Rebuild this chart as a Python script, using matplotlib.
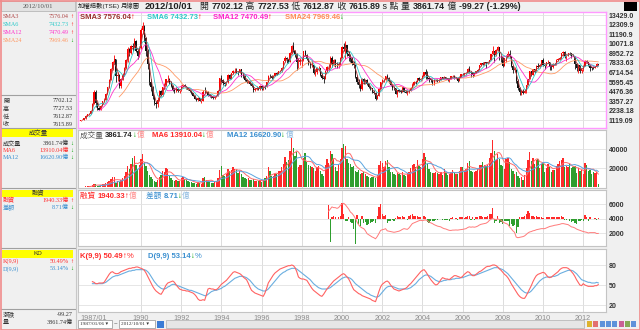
import numpy as np
import pandas as pd
import matplotlib.pyplot as plt
from matplotlib.patches import Rectangle

plt.rcParams["font.family"] = ["Liberation Sans", "Noto Sans CJK TC"]

W, H = 640, 330

# ---- 月線資料 1987/01 ~ 2012/10 ----
closes = [
    1146, 1170, 1305, 1620, 1780, 1830, 2160, 3050, 4420, 3130, 2570, 2339,
    2790, 3300, 3530, 4200, 4950, 5880, 7160, 7900, 8300, 6300, 6400, 5119,
    5950, 6450, 7250, 8150, 9450, 9000, 9800, 9700, 10400, 9300, 8700, 9624,
    11700, 12200, 10800, 9300, 7700, 5600, 5000, 3900, 3100, 3000, 3500, 4530,
    4100, 4950, 5200, 5900, 5950, 5600, 5150, 4650, 4550, 4800, 4500, 4600,
    5100, 5300, 5050, 4900, 4700, 4550, 4300, 4000, 3650, 3450, 3700, 3377,
    3400, 4450, 4400, 4400, 4050, 4000, 3800, 3700, 3860, 4000, 4500, 6070,
    5800, 5450, 5400, 5600, 6450, 6000, 6600, 6850, 6900, 6800, 6650, 7124,
    6400, 6350, 5850, 5600, 5700, 5350, 5150, 4650, 4800, 4850, 4750, 5173,
    4800, 5050, 5000, 5600, 6350, 6300, 6050, 6350, 6600, 6580, 6850, 6933,
    7200, 8050, 8450, 8300, 7950, 9030, 9850, 9200, 8850, 7900, 7900, 8187,
    8200, 9200, 8750, 8250, 7700, 7550, 7600, 6600, 6800, 7200, 7200, 6418,
    6100, 5900, 6880, 7350, 7400, 8450, 7600, 8150, 7600, 7550, 7700, 8448,
    9750, 9450, 9900, 8950, 8650, 8300, 7800, 7650, 6200, 5650, 5250, 4739,
    5950, 5550, 5800, 5380, 4950, 4850, 4400, 4300, 3650, 3900, 4800, 5551,
    5800, 5850, 6250, 6100, 5700, 5200, 4900, 4850, 4200, 4600, 4550, 4452,
    4950, 4450, 4300, 4500, 4550, 4900, 5300, 5650, 5600, 6050, 5800, 5890,
    6350, 6750, 6500, 6100, 5900, 5850, 5500, 5800, 5850, 5700, 5850, 6139,
    5990, 6200, 6000, 5800, 6000, 6250, 6300, 6050, 6120, 5760, 6200, 6548,
    6530, 6600, 6620, 7170, 6800, 6700, 6450, 6620, 6880, 7020, 7570, 7823,
    7700, 7900, 7880, 7900, 8150, 8880, 9290, 8800, 9400, 9700, 8600, 8506,
    7520, 8410, 8570, 8920, 8620, 7520, 7050, 7050, 5720, 4870, 4460, 4591,
    4250, 4560, 5210, 5990, 6890, 6430, 7080, 6830, 7510, 7340, 7580, 8188,
    7640, 7440, 7920, 8000, 7370, 7330, 7760, 7620, 8240, 8290, 8372.48, 8972.50,
    9145.35, 8600.00, 8683.30, 9007.87, 8989.30, 8652.59, 8644.00, 7741.36, 7225.38, 7587.00, 6904.12, 7072.08,
    7517.08, 8121.45, 7933.00, 7501.72, 7301.50, 7296.28, 7270.49, 7397.07, 7715.16, 7615.89,
]
highs = [
    1160, 1230, 1330, 1650, 1830, 1900, 2200, 3100, 4600, 4673, 3200, 2700,
    2850, 3380, 3700, 4300, 5050, 5950, 7300, 8100, 8789, 8350, 6800, 6500,
    6100, 6700, 7400, 8300, 9700, 9600, 10000, 10200, 10800, 10500, 9500, 9800,
    11900, 12682, 12300, 10900, 9500, 7800, 5900, 5100, 4100, 3300, 3800, 4700,
    4600, 5000, 5500, 6000, 6365, 6100, 5700, 5200, 4900, 4950, 4900, 4700,
    5200, 5391, 5350, 5150, 4950, 4750, 4600, 4350, 4050, 3700, 3800, 3750,
    3500, 4600, 4950, 4600, 4500, 4150, 4100, 3850, 3950, 4100, 4600, 6100,
    6400, 5950, 5600, 5700, 6500, 6550, 6700, 7000, 7200, 7228, 6900, 7180,
    7150, 6700, 6450, 5950, 5800, 5750, 5500, 5250, 4900, 5100, 4950, 5200,
    5250, 5100, 5200, 5650, 6400, 6500, 6400, 6400, 6650, 6750, 6900, 7000,
    7300, 8100, 8600, 8550, 8350, 9100, 10000, 10256, 9400, 9050, 8400, 8400,
    8400, 9300, 9378, 8850, 8300, 7900, 8200, 7650, 7100, 7400, 7500, 7200,
    6600, 6250, 7000, 7500, 7700, 8600, 8710, 8300, 8300, 7900, 7950, 8500,
    9800, 10202, 10393, 10000, 9200, 8900, 8500, 8100, 7700, 6400, 5900, 5400,
    6100, 6104, 5900, 5900, 5500, 5100, 4900, 4700, 4400, 4050, 4850, 5600,
    5900, 6000, 6300, 6484, 6150, 5750, 5350, 5100, 4900, 4700, 4800, 4650,
    5050, 5000, 4700, 4600, 4750, 4950, 5500, 5700, 5750, 6100, 6182, 5950,
    6400, 6800, 7135, 6850, 6100, 6000, 5900, 5900, 6000, 5900, 6000, 6200,
    6200, 6300, 6240, 6050, 6100, 6300, 6450, 6400, 6200, 6150, 6250, 6575,
    6700, 6650, 6700, 7200, 7475, 6950, 6800, 6700, 6900, 7080, 7600, 7850,
    8000, 8000, 7950, 8000, 8200, 8900, 9807, 9300, 9500, 9859, 9700, 8700,
    8500, 8450, 8800, 9200, 9309, 8600, 7650, 7400, 7100, 5900, 5000, 4700,
    4730, 4750, 5250, 6000, 6900, 6950, 7100, 7150, 7560, 7800, 7700, 8200,
    8395, 7650, 7950, 8166, 7950, 7550, 7800, 7850, 8250, 8400, 8500, 8980,
    9220, 9200, 8750, 9050, 9100, 9050, 8950, 8700, 7800, 7700, 7600, 7100,
    7550, 8140, 8170, 7950, 7650, 7350, 7450, 7480, 7800, 7727.53,
]
lows = [
    1030, 1100, 1160, 1290, 1600, 1700, 1800, 2150, 3000, 2700, 2300, 2298,
    2300, 2750, 3200, 3500, 4150, 4900, 5800, 7000, 7800, 5615, 5700, 4900,
    4873, 5800, 6300, 7100, 8000, 8700, 8900, 9200, 9600, 9100, 8300, 8500,
    9500, 11200, 10300, 8600, 7100, 5300, 4500, 3600, 2900, 2485, 2700, 3400,
    3900, 4000, 4800, 5100, 5600, 5400, 5050, 4500, 4300, 4450, 4400, 4300,
    4500, 5000, 5000, 4800, 4600, 4450, 4200, 3900, 3600, 3327, 3400, 3350,
    3098, 3350, 4300, 4250, 4000, 3850, 3700, 3600, 3650, 3850, 3950, 4500,
    5600, 5200, 5100, 5250, 5500, 5900, 5950, 6500, 6700, 6650, 6400, 6600,
    6200, 6100, 5750, 5500, 5450, 5300, 5000, 4474, 4550, 4700, 4600, 4700,
    4672, 4700, 4800, 4950, 5550, 6100, 5950, 6000, 6300, 6450, 6500, 6750,
    6800, 7150, 7900, 7800, 7800, 7900, 8950, 9100, 8500, 7040, 7300, 7600,
    7400, 8100, 8600, 8150, 7600, 7250, 7400, 6500, 6250, 6500, 6900, 6300,
    5950, 5422, 5900, 6800, 7000, 7300, 7400, 7450, 7400, 7300, 7300, 7600,
    8400, 9200, 8300, 8700, 8100, 8000, 7600, 7200, 6100, 5400, 4850, 4555,
    4700, 5400, 5400, 5200, 4900, 4600, 4300, 4200, 3446, 3600, 3900, 4800,
    5500, 5550, 5750, 5950, 5500, 5150, 4700, 4600, 4150, 3850, 4450, 4300,
    4400, 4400, 4250, 4044, 4300, 4500, 4850, 5200, 5400, 5550, 5750, 5700,
    5850, 6300, 6000, 5900, 5550, 5600, 5300, 5255, 5700, 5600, 5600, 5800,
    5900, 5950, 5950, 5700, 5650, 5950, 6200, 6000, 5950, 5618, 5750, 6150,
    6400, 6350, 6450, 6600, 6650, 6200, 6232, 6300, 6600, 6800, 7000, 7500,
    7600, 7650, 7300, 7700, 7850, 8150, 8900, 7987, 8700, 9200, 8200, 8000,
    7384, 7500, 7900, 8500, 8400, 7400, 6700, 6750, 5530, 4700, 4110, 4089,
    4164, 4250, 4300, 5200, 6000, 6300, 6400, 6600, 6800, 7300, 7250, 7500,
    7500, 7080, 7450, 7800, 7032, 7050, 7250, 7600, 7600, 8100, 8150, 8350,
    8700, 8400, 8070, 8600, 8800, 8400, 8600, 7100, 6900, 6600, 6700, 6600,
    6900, 7500, 7800, 7450, 6900, 7050, 7100, 7200, 7350, 7612.87,
]
first_open = 1040.0
last_open = 7702.12

# 成交量 (億)
volume = [
    300, 400, 500, 900, 1200, 1100, 1500, 2500, 4000, 3000, 1500, 1400,
    2500, 3000, 3500, 4500, 5500, 6500, 9000, 10500, 11000, 5000, 6500, 5500,
    8000, 9500, 12000, 16000, 22000, 19000, 25000, 31000, 33000, 23000, 19000, 24000,
    30000, 35000, 27000, 22000, 17000, 13000, 11000, 9000, 7000, 5500, 8000, 10500,
    13000, 17000, 16500, 20000, 19000, 12000, 10000, 7500, 7000, 8000, 7000, 6500,
    9500, 11000, 8500, 7500, 6500, 5500, 5500, 5000, 4500, 4000, 5500, 4500,
    4000, 9500, 10500, 8000, 6500, 5500, 5000, 4800, 5500, 6500, 9500, 18500,
    22000, 13000, 12000, 13500, 19500, 17000, 18000, 21000, 19000, 18500, 15000, 17500,
    14000, 11000, 10000, 8500, 9500, 8000, 7500, 8500, 7000, 7000, 6500, 7500,
    6000, 7500, 9500, 12000, 21000, 17500, 11500, 11500, 14000, 13500, 17000, 17500,
    21000, 25000, 32000, 26500, 29000, 38000, 52000, 41000, 33000, 37000, 21500, 23000,
    24000, 31000, 36000, 27000, 23000, 22000, 21000, 20000, 17500, 21000, 22500, 17000,
    14500, 11500, 23000, 30000, 26000, 38000, 35500, 30000, 21000, 17000, 25000, 30000,
    41000, 45500, 43000, 29500, 26000, 25000, 21000, 22000, 17500, 16500, 18000, 14000,
    15500, 16000, 14000, 12000, 11000, 10000, 11000, 10500, 10000, 12500, 23500, 27500,
    26000, 21000, 28000, 29000, 21500, 16000, 16500, 14000, 13000, 15000, 14500, 12500,
    16500, 12500, 12000, 15500, 16000, 20000, 23000, 24500, 21500, 29000, 22000, 21000,
    30000, 36000, 32000, 25000, 19000, 16500, 15000, 15000, 16500, 15000, 14500, 16000,
    13000, 19000, 15500, 13000, 14000, 16500, 18000, 16500, 13500, 14500, 17000, 21000,
    21000, 17500, 19500, 26000, 28000, 17000, 16500, 16000, 17000, 19500, 23000, 24000,
    26500, 24000, 22500, 24000, 30500, 36000, 50000, 38500, 28500, 35500, 30000, 23000,
    22500, 19000, 29500, 31000, 27000, 19500, 17500, 13500, 16000, 12000, 10000, 11000,
    8000, 13000, 20000, 29000, 37000, 28000, 30500, 25000, 29000, 30000, 20000, 24500,
    26000, 16000, 20000, 25000, 21500, 16500, 18500, 18000, 22500, 25000, 28000, 29000,
    30500, 21500, 22500, 21000, 24500, 20000, 21500, 22000, 15000, 20000, 17500, 17800,
    13500, 25800, 23900, 17490.56, 18500, 14200, 15600, 15300, 15998.5, 3861.74,
]

# 融資餘額與差額 (億), 1999/05 起
margin_start = "1999-05"
margin = [
    5000, 5300, 5600, 5500, 5500, 5400, 5500, 5800,
    6000, 6100, 5900, 5600, 5300, 4900, 4700, 4400, 4000, 3500, 3100, 2850,
    2700, 2600, 2300, 1900, 1750, 1600, 1450, 1350, 1200, 1500, 1900, 2350,
    2450, 2500, 2600, 2300, 2250, 2200, 2150, 2100, 2140, 2200, 2250, 2350,
    2500, 2600, 2550, 2500, 2700, 3000, 3300, 3400, 3500, 3600, 3700, 3750,
    3700, 3770, 3800, 3700, 3500, 3400, 3300, 3150, 3050, 2950, 2900, 2840,
    2700, 2600, 2550, 2450, 2370, 2350, 2400, 2400, 2420, 2400, 2440, 2470,
    2500, 2550, 2600, 2750, 2850, 2800, 2840, 2800, 2850, 2950, 3100, 3200,
    3250, 3300, 3350, 3500, 3750, 3900, 4000, 3900, 3850, 3950, 3850, 3770,
    3500, 3400, 3300, 3200, 2840, 2600, 2300, 2100, 1440, 1350, 1400, 1440,
    1500, 1600, 1800, 2000, 2140, 2200, 2300, 2350, 2450, 2500, 2550, 2600,
    2600, 2600, 2700, 2800, 2900, 2950, 3000, 3070, 3100, 3150, 3200, 3280,
    3300, 3250, 3200, 3150, 3000, 2840, 2800, 2700, 2550, 2450, 2370, 2300,
    2200, 2150, 2100, 2000, 2050, 2050, 2050, 2050, 1931.62, 1940.33,
]
margin_diff = [
    950, -1600, 120, 150, 80, -60, 100, 180,
    1050, 300, -150, -200, 100, -250, -300, -700, -1750, 250, -350, -500,
    200, -300, -250, -450, -350, -300, -250, -200, -300, 150, 800, 1000,
    300, 150, 250, -300, -150, -200, -100, -150, 50, 150, 100, 120,
    150, 80, -60, -80, 150, 250, 300, 200, 150, 150, 120, 80,
    -60, 150, 100, -250, -300, -200, -150, -150, -100, -80, -60, -60,
    -120, -100, -80, -120, -150, 60, 80, -60, 50, -80, 80, 100,
    80, 60, 80, 200, 150, -120, 80, -80, 100, 120, 180, 150,
    100, 80, 100, 200, 300, 300, 750, -300, -150, 200, -300, -250,
    -400, -150, -200, -150, -500, -400, -500, -450, -1000, -600, 80, 80,
    100, 150, 300, 500, 350, 150, 200, 100, 200, 100, 80, 100,
    60, -60, 100, 120, 100, 80, 80, 100, 80, 80, 100, 150,
    100, -80, -100, -60, -200, -250, -150, -300, -400, -200, -150, -100,
    -150, 250, 100, -150, 80, -60, -50, 60, -120, 8.71,
]

# KD(9,9), 1987/08 起
kd_start = "1987-08"
kd_k = [
    55, 54, 52, 52, 53,
    53, 53, 54, 58, 62, 66, 69, 70, 68, 67, 67, 68,
    70, 71, 72, 73, 74, 75, 75, 76, 76, 77, 77, 76,
    75, 74, 72, 68, 63, 58, 53, 48, 44, 41, 39, 37,
    36, 40, 45, 50, 53, 54, 55, 56, 54, 50, 47, 44,
    43, 42, 42, 41, 41, 40, 39, 38, 36, 33, 29, 27,
    27, 28, 27, 35, 44, 45, 44, 44, 43, 43, 45, 48,
    51, 53, 55, 57, 60, 63, 66, 69, 70, 69, 68, 67,
    65, 62, 60, 58, 53, 47, 42, 40, 38, 37, 36, 35,
    34, 33, 38, 45, 53, 57, 61, 65, 68, 70, 72, 74,
    75, 76, 77, 78, 79, 79, 80, 79, 76, 70, 62, 60,
    59, 59, 58, 57, 53, 49, 45, 42, 40, 38, 36, 34,
    33, 36, 40, 44, 47, 50, 53, 56, 58, 60, 62, 64,
    66, 67, 65, 62, 59, 54, 48, 43, 41, 39, 37, 36,
    34, 33, 32, 31, 30, 29, 27, 26, 25, 32, 40, 47,
    51, 53, 55, 56, 54, 50, 47, 44, 43, 42, 41, 42,
    43, 44, 45, 47, 50, 52, 55, 58, 61, 64, 67, 70,
    72, 73, 70, 66, 62, 58, 55, 52, 50, 51, 54, 58,
    61, 60, 59, 59, 58, 60, 62, 64, 64, 63, 62, 61,
    63, 66, 68, 70, 69, 66, 64, 64, 66, 68, 70, 71,
    73, 75, 77, 78, 78, 79, 80, 80, 79, 77, 74, 72,
    69, 66, 64, 61, 57, 52, 48, 44, 40, 36, 33, 31,
    30, 30, 34, 39, 44, 49, 55, 60, 64, 66, 67, 68,
    69, 68, 65, 62, 61, 62, 64, 66, 68, 70, 73, 75,
    76, 76, 76, 75, 73, 70, 67, 63, 58, 54, 50, 49,
    52, 50, 49, 48, 48, 48, 48, 49, 49, 50.49,
]
kd_d = [
    52, 52, 52, 52, 52,
    52, 52, 53, 54, 56, 58, 60, 62, 63, 64, 64, 65,
    66, 67, 68, 69, 70, 71, 71, 72, 72, 73, 73, 73,
    73, 73, 73, 72, 70, 67, 63, 59, 55, 52, 49, 47,
    45, 44, 44, 45, 47, 48, 50, 51, 51, 50, 49, 48,
    47, 46, 45, 44, 43, 42, 42, 41, 40, 39, 38, 37,
    36, 35, 34, 34, 36, 38, 40, 41, 42, 42, 43, 44,
    45, 47, 48, 50, 52, 54, 56, 58, 60, 61, 62, 63,
    63, 63, 62, 61, 59, 57, 54, 51, 48, 46, 44, 43,
    42, 41, 41, 42, 44, 47, 50, 53, 56, 59, 62, 65,
    67, 69, 70, 72, 73, 74, 75, 75, 75, 74, 72, 70,
    68, 66, 64, 62, 60, 58, 55, 52, 50, 48, 46, 45,
    44, 44, 44, 44, 45, 46, 48, 50, 52, 54, 56, 58,
    60, 61, 62, 62, 61, 60, 58, 55, 52, 50, 48, 46,
    44, 42, 40, 38, 37, 35, 34, 33, 32, 32, 33, 36,
    39, 42, 45, 47, 48, 48, 48, 47, 46, 45, 44, 44,
    44, 44, 44, 44, 45, 46, 48, 50, 52, 55, 58, 60,
    62, 64, 65, 65, 64, 63, 61, 59, 57, 56, 55, 55,
    56, 57, 57, 58, 58, 58, 59, 59, 60, 60, 60, 61,
    61, 62, 63, 64, 65, 65, 65, 65, 65, 66, 67, 68,
    69, 70, 71, 72, 73, 74, 75, 76, 76, 76, 75, 74,
    73, 71, 69, 67, 64, 61, 58, 55, 52, 49, 46, 43,
    41, 39, 38, 38, 39, 41, 44, 47, 50, 53, 56, 58,
    60, 61, 62, 62, 62, 62, 63, 63, 64, 65, 67, 68,
    69, 70, 71, 72, 72, 72, 71, 69, 67, 64, 61, 58,
    57, 56, 55, 54, 54, 53, 53, 53, 54, 53.14,
]

price_ticks = [1119.09, 2238.18, 3357.27, 4476.36, 5595.45, 6714.54,
               7833.63, 8952.72, 10071.8, 11190.9, 12309.9, 13429.0]
price_labels = ["1119.09", "2238.18", "3357.27", "4476.36", "5595.45", "6714.54",
                "7833.63", "8952.72", "10071.8", "11190.9", "12309.9", "13429.0"]
vol_ticks = [20000, 40000]
margin_ticks = [2000, 4000, 6000]
kd_ticks = [20, 50, 80]
year_labels = ["1990", "1992", "1994", "1996", "1998", "2000",
               "2002", "2004", "2006", "2008", "2010", "2012"]

# ---- 整理 ----
months = pd.period_range("1987-01", periods=len(closes), freq="M")
x = np.arange(len(months))
c = np.array(closes, float)
o = np.r_[first_open, c[:-1]]
o[-1] = last_open
hi = np.maximum(np.array(highs, float), np.maximum(o, c))
lo = np.minimum(np.array(lows, float), np.minimum(o, c))
up = c >= o

s = pd.Series(c)
sma = {n: s.rolling(n).mean() for n in (3, 6, 12, 24)}
vs = pd.Series(volume, dtype=float)
vma6 = vs.rolling(6).mean()
vma12 = vs.rolling(12).mean()

xm = np.arange(len(margin)) + months.get_loc(pd.Period(margin_start, "M"))
xk = np.arange(len(kd_k)) + months.get_loc(pd.Period(kd_start, "M"))
year_pos = [months.get_loc(pd.Period(f"{y}-01", "M")) for y in year_labels]

RED, GREEN = "#ff0000", "#1e9a1e"
C_SMA = {3: "#a33a3a", 6: "#2ec9c9", 12: "#ff33cc", 24: "#ff9a66"}

# ---- 版面 ----
fig = plt.figure(figsize=(6.4, 3.3), dpi=100, facecolor="#f0f0f0")


def rect(x0, y0, x1, y1):
    return [x0 / W, 1 - y1 / H, (x1 - x0) / W, (y1 - y0) / H]


bg = fig.add_axes([0, 0, 1, 1])
bg.set_xlim(0, W)
bg.set_ylim(H, 0)
bg.axis("off")

# 左側資訊欄
bg.add_patch(Rectangle((0, 0), 76, H, fc="#f0f0f0", ec="none"))
bg.add_patch(Rectangle((1, 1), 74, 10, fc="#e2e2e2", ec="#b8b8b8", lw=0.6))
for yy in (95, 127.5, 187.5, 248, 309):
    bg.plot([1, 75], [yy, yy], color="#a0a0a0", lw=0.8)
for y0 in (129, 189.5, 250):
    bg.add_patch(Rectangle((2, y0), 71, 7.5, fc="#ffff00", ec="none"))
bg.plot([76, 76], [0, H], color="#c8c8c8", lw=0.8)
bg.add_patch(Rectangle((623.5, 1.5), 13.5, 9.5, fc="#000000", ec="none"))
# 底部日期列
bg.add_patch(Rectangle((78, 320), 34, 8, fc="white", ec="#909090", lw=0.5))
bg.add_patch(Rectangle((119, 320), 36, 8, fc="white", ec="#909090", lw=0.5))
bg.add_patch(Rectangle((166, 320), 418, 8, fc="#e6e6e6", ec="#b0b0b0", lw=0.5))
bg.add_patch(Rectangle((157, 320.5), 7, 7, fc="#3a7bd5", ec="none"))
for i, col in enumerate(["#d9a400", "#e05050", "#3a7bd5", "#3a7bd5", "#3a7bd5", "#c04080", "#6a9a30", "#3a7bd5"]):
    bg.add_patch(Rectangle((587 + i * 6.3, 321), 5, 6, fc=col, ec="none", alpha=0.8))
bg.plot([0.5, 0.5, W - 0.5, W - 0.5, 0.5], [0.5, H - 0.5, H - 0.5, 0.5, 0.5],
        color="#f08c8c", lw=1.2)

main = fig.add_axes(rect(78, 12, 606, 128))
vol = fig.add_axes(rect(78, 130, 606, 187.5))
mar = fig.add_axes(rect(78, 190, 606, 246))
kd = fig.add_axes(rect(78, 249, 606, 312))

# 融資差額用的副軸 (0 對齊 4000 那條線)
mar2 = mar.twinx()

for ax in (main, vol, mar, kd):
    ax.set_xlim(-1.6, 313.6)
    ax.set_facecolor("white")
    for sp in ax.spines.values():
        sp.set_color("#c4c4c4")
        sp.set_linewidth(0.8)
    for p in year_pos:
        ax.axvline(p, color="#dcdcdc", lw=0.7, zorder=0)
    ax.yaxis.tick_right()
    ax.tick_params(axis="y", length=0, pad=2, labelsize=5, labelcolor="#333333")
    ax.tick_params(axis="x", length=0)
    ax.set_xticks([])
for sp in main.spines.values():
    sp.set_color("#ff99ff")
    sp.set_linewidth(1.0)

# 主圖: K 線與均線
main.set_ylim(177, 13841)
main.set_yticks(price_ticks, price_labels, fontweight="bold")
for t in price_ticks:
    main.axhline(t, color="#e2e2e2", lw=0.6, zorder=0)
bar_col = np.where(up, RED, "#111111")
main.vlines(x, lo, hi, colors=bar_col, lw=0.6, zorder=2)
main.bar(x, np.maximum(np.abs(c - o), 20), bottom=np.minimum(o, c), width=0.75,
         color=bar_col, lw=0, zorder=3)
for n in (24, 12, 6, 3):
    main.plot(x, sma[n], color=C_SMA[n], lw=0.6, zorder=4)

# 成交量
vol.set_ylim(-200, 60300)
vol.set_yticks(vol_ticks, [str(v) for v in vol_ticks], fontweight="bold")
for t in vol_ticks:
    vol.axhline(t, color="#e2e2e2", lw=0.6, zorder=0)
vol.bar(x, volume, width=0.8, color=np.where(up, "#ff2a2a", "#2e9e2e"), lw=0, zorder=2)
vol.plot(x, vma6, color="#ff6b6b", lw=0.7, zorder=3)
vol.plot(x, vma12, color="#5aa5e0", lw=0.7, zorder=3)

# 融資
mar.set_ylim(207, 7931)
mar.set_yticks(margin_ticks, [str(v) for v in margin_ticks], fontweight="bold")
for t in margin_ticks:
    mar.axhline(t, color="#e2e2e2", lw=0.6, zorder=0)
mar2.set_ylim((207 - 4000) / 2, (7931 - 4000) / 2)
mar2.set_yticks([])
mar2.set_xlim(-1.6, 313.6)
for sp in mar2.spines.values():
    sp.set_visible(False)
md = np.array(margin_diff)
mar2.bar(xm, md, width=0.8, color=np.where(md >= 0, "#ff2a2a", "#2e9e2e"), lw=0)
mar2.plot(xm, (np.array(margin) - 4000) / 2, color="#ff7a7a", lw=0.7)

# KD
kd.set_ylim(9.5, 104)
kd.set_yticks(kd_ticks, [str(v) for v in kd_ticks], fontweight="bold")
for t in kd_ticks:
    kd.axhline(t, color="#e2e2e2", lw=0.6, zorder=0)
kd.plot(xk, kd_d, color="#6aaee0", lw=0.8)
kd.plot(xk, kd_k, color="#ff6262", lw=0.8)
kd.set_xticks([0] + year_pos, ["1987/01"] + year_labels)
kd.tick_params(axis="x", labelsize=5.2, labelcolor="#8c8c8c", pad=2.5)
kd.get_xticklabels()[0].set_horizontalalignment("left")

# ---- 文字 ----
ov = fig.add_axes([0, 0, 1, 1])
ov.set_xlim(0, W)
ov.set_ylim(H, 0)
ov.axis("off")


def runs(x0, y0, parts, size=5.5):
    t = None
    for txt, col, bold in parts:
        kw = dict(fontsize=size, color=col, fontweight="bold" if bold else "normal",
                  va="center", ha="left")
        if t is None:
            t = ov.text(x0, y0, txt, **kw)
        else:
            t = ov.annotate(txt, xy=(1, 0.5), xycoords=t, **kw)
    return t


UP, DN = ("↑", RED, True), ("↓", "#00a000", True)
DK = "#222222"

# 標題列
runs(78, 6.2, [("加權指數(TSE)", DK, False)], size=4.6)
runs(121, 6.2, [("月線圖", DK, False)], size=4.6)
runs(145, 6.2, [("2012/10/01", DK, True)], size=6.8)
runs(200, 6.2, [("開 ", DK, False), ("7702.12", DK, True), (" 高 ", DK, False),
                ("7727.53", DK, True), (" 低 ", DK, False), ("7612.87", DK, True),
                (" 收 ", DK, False), ("7615.89", DK, True), (" s 點 ", DK, False),
                ("量 ", DK, False), ("3861.74", DK, True), (" 億 ", DK, False),
                ("-99.27 (-1.29%)", DK, True)], size=6.4)

# 面板圖例
runs(80, 17.5, [("SMA3 7576.04", "#9c2f2f", True), UP])
runs(147, 17.5, [("SMA6 7432.73", "#2ec9c9", True), UP])
runs(213, 17.5, [("SMA12 7470.49", "#ff22cc", True), UP])
runs(285, 17.5, [("SMA24 7969.46", "#ff8a55", True), DN])
runs(80, 135.5, [("成交量 ", "#555555", False), ("3861.74", DK, True), DN, ("億", "#ff8a8a", False)])
runs(152, 135.5, [("MA6 13910.04", "#ff2a2a", True), DN, ("億", "#ff8a8a", False)])
runs(227, 135.5, [("MA12 16620.90", "#3a8fd0", True), DN, ("億", "#8ab8e0", False)])
runs(80, 196, [("融資 ", "#ff2a2a", False), ("1940.33", "#ff2a2a", True), UP, ("億", "#ff8a8a", False)])
runs(146, 196, [("差額 ", "#3a8fd0", False), ("8.71", "#3a8fd0", True), DN, ("億", "#8ab8e0", False)])
runs(80, 256, [("K(9,9) 50.49", "#ff2a2a", True), UP, ("%", "#ff2a2a", False)])
runs(148, 256, [("D(9,9) 53.14", "#3a8fd0", True), DN, ("%", "#3a8fd0", False)])

# 左欄數值
SER = ["Liberation Serif", "Noto Sans CJK TC"]
SYM = ["Liberation Serif", "DejaVu Sans"]


def side(y0, label, value, col, arrow=None, unit="", size=4.4):
    ov.text(3, y0, label, fontsize=size, color=col, va="center", ha="left", family=SER)
    ov.text(68.5 if arrow else 73, y0, value + unit, fontsize=size, color=col,
            va="center", ha="right", family=SER)
    if arrow:
        ov.text(69.8, y0, arrow[0], fontsize=size, color=arrow[1], va="center",
                ha="left", fontweight="bold")


ov.text(38, 6, "2012/10/01", fontsize=4.8, color="#555555", ha="center", va="center", family=SER)
side(16, "SMA3", "7576.04", "#b04848", UP)
side(24.3, "SMA6", "7432.73", "#2ec9c9", UP)
side(32.5, "SMA12", "7470.49", "#ff33cc", UP)
side(40.8, "SMA24", "7969.46", "#ff9a66", DN)
side(101, "開", "7702.12", "#333333")
side(109, "高", "7727.53", "#333333")
side(117, "低", "7612.87", "#333333")
side(124.8, "收", "7615.89", "#333333")
ov.text(38, 132.8, "成交量", fontsize=4.6, color="#333333", ha="center", va="center")
side(143.3, "成交量", "3861.74", "#333333", DN, "億")
side(150.5, "MA6", "13910.04", "#ff3030", DN, "億")
side(157.7, "MA12", "16620.90", "#3a8fd0", DN, "億")
ov.text(38, 193.3, "融資", fontsize=4.6, color="#333333", ha="center", va="center")
side(200.5, "融資", "1940.33", "#ff3030", UP, "億")
side(207.8, "差額", "8.71", "#3a8fd0", DN, "億")
ov.text(38, 253.8, "KD", fontsize=4.6, color="#333333", ha="center", va="center")
side(261.5, "K(9,9)", "50.49%", "#ff3030", UP)
side(269, "D(9,9)", "53.14%", "#3a8fd0", DN)
side(314.5, "漲跌", "-99.27", "#333333")
side(322.5, "量", "3861.74億", "#333333")

# 底部日期
ov.text(80, 324, "1987/01/06 ▾", fontsize=3.8, color="#333333", va="center", family=SYM)
ov.text(114, 324, "~", fontsize=4.5, color="#333333", va="center")
ov.text(121, 324, "2012/10/01 ▾", fontsize=3.8, color="#333333", va="center", family=SYM)

fig.savefig("out.png", dpi=100, facecolor=fig.get_facecolor())
